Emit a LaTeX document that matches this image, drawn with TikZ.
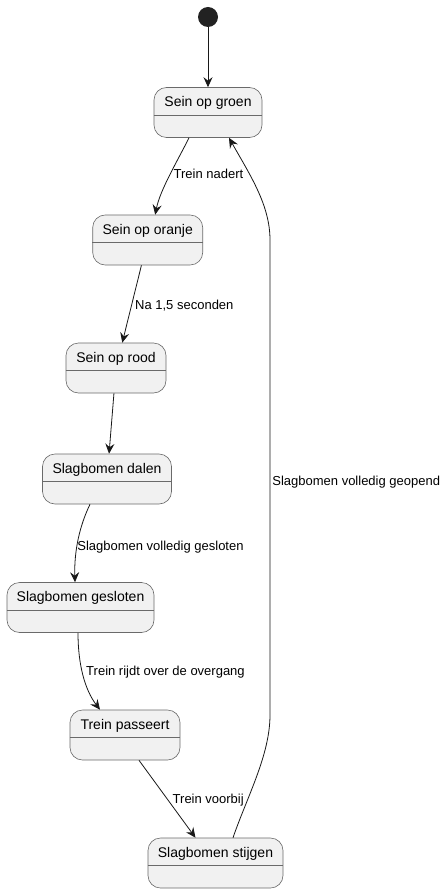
\documentclass[tikz,border=0pt]{standalone}
\usepackage{fontspec}
\setmainfont{Liberation Sans}
\usetikzlibrary{arrows.meta,shapes}
\definecolor{statefill}{HTML}{F1F1F1}
\definecolor{stateline}{HTML}{181818}
\definecolor{boxline}{HTML}{6A6A6A}
\definecolor{startfill}{HTML}{222222}
\tikzstyle{state}=[rectangle,draw=boxline,fill=statefill,rounded corners=12.5pt,minimum height=50pt,line width=0.6pt,inner sep=0pt]
\tikzstyle{divider}=[draw=boxline,line width=0.6pt]
\tikzstyle{statetext}=[font=\fontsize{14}{16}\selectfont,text height=10pt,text depth=3pt,inner sep=0pt]
\tikzstyle{startstate}=[circle,fill=startfill,minimum size=20pt,inner sep=0pt]
\tikzstyle{edge}=[draw=stateline,line width=0.8pt,-{Stealth[length=10pt,width=9pt,inset=3.5pt]}]
\tikzstyle{lbl}=[font=\fontsize{13}{15}\selectfont,text height=9.5pt,text depth=2.5pt,anchor=west,inner sep=0pt]

\begin{document}
\begin{tikzpicture}[x=1pt,y=-1pt]
    \useasboundingbox (0,0) rectangle (445,893);
    % First the start point and the states
    \node[startstate] (start) at (208,17) {};
    \foreach \pos/\name/\w/\txt in {{(208,112.5)/groen/108/Sein op groen}, {(147.7,240)/oranje/110/Sein op oranje}, {(116,368)/rood/100/Sein op rood}, {(107,479)/dalen/129/Slagbomen dalen}, {(80.5,607.5)/gesloten/147/Slagbomen gesloten}, {(125,735)/passeert/110/Trein passeert}, {(215.5,863)/stijgen/135/Slagbomen stijgen}}
    {
        \node[state, minimum width=\w] (\name) at \pos {};
        \path[divider] ([yshift=-2.5pt]\name.west) -- ([yshift=-2.5pt]\name.east);
        \node[statetext] at ([yshift=9.5pt]\name.center) {\txt};
    }
    % Connect the states with transitions
    \path[edge] (start) -- (groen);
    \path[edge] ([xshift=-19pt]groen.south) .. controls (178,160) and (160,190) .. ([xshift=7.5pt]oranje.north) node[lbl,pos=0.5,xshift=3.5pt] {Trein nadert};
    \path[edge] (oranje) -- node[lbl,pos=0.53,xshift=3.5pt] {Na 1,5 seconden} (rood);
    \path[edge] (rood) -- (dalen);
    \path[edge] ([xshift=-17pt]dalen.south) .. controls (80,525) and (74,550) .. ([xshift=-5.5pt]gesloten.north) node[lbl,pos=0.6] {Slagbomen volledig gesloten};
    \path[edge] ([xshift=-2.5pt]gesloten.south) .. controls (78,665) and (85,690) .. ([xshift=-25pt]passeert.north) node[lbl,pos=0.45,xshift=3.5pt] {Trein rijdt over de overgang};
    \path[edge] ([xshift=14pt]passeert.south) -- node[lbl,pos=0.51,xshift=4.5pt] {Trein voorbij} ([xshift=-20pt]stijgen.north);
    % and back up to the first state
    \coordinate (up1) at (270,715);
    \coordinate (up2) at (270,240);
    \path[edge] ([xshift=17.5pt]stijgen.north) .. controls (247,797) and (270,755) .. (up1) -- (up2) node[lbl,pos=0.49,xshift=2pt] {Slagbomen volledig geopend} .. controls (270,205) and (250,175) .. ([xshift=21pt]groen.south);
\end{tikzpicture}
\end{document}
